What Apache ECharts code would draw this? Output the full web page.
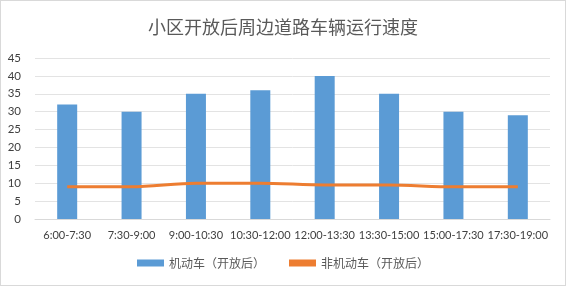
<!DOCTYPE html>
<html><head><meta charset="utf-8">
<script src="https://cdn.jsdelivr.net/npm/echarts@6/dist/echarts.min.js"></script>
<style>html,body{margin:0;padding:0;background:#fff}#c{width:566px;height:286px;box-sizing:border-box;border:1px solid #d9d9d9}</style>
</head><body><div id="c"></div>
<script>
const categories = ['6:00-7:30','7:30-9:00','9:00-10:30','10:30-12:00','12:00-13:30','13:30-15:00','15:00-17:30','17:30-19:00'];
const motorSpeed = [32, 30, 35, 36, 40, 35, 30, 29];
const nonMotorSpeed = [9, 9, 10, 10, 9.5, 9.5, 9, 9];
const yTicks = {min: 0, max: 45, interval: 5};
const titleText = '小区开放后周边道路车辆运行速度';
const seriesNames = ['机动车（开放后）', '非机动车（开放后）'];

const chart = echarts.init(document.getElementById('c'), null, {renderer: 'canvas'});
const numFont = 'Lato, "Liberation Sans", sans-serif';
const cjk = '"Noto Sans CJK SC", sans-serif';
chart.setOption({
  animation: false,
  title: {text: titleText, left: 'center', top: 12,
    textStyle: {fontFamily: cjk, fontSize: 18, fontWeight: 'normal', color: '#595959'}},
  grid: {left: 34, right: 15, top: 57, bottom: 66},
  legend: {bottom: 11, left: 'center', itemGap: 24, itemWidth: 27, itemHeight: 7,
    textStyle: {fontFamily: cjk, fontSize: 12, color: '#595959'},
    data: [{name: seriesNames[0], icon: 'rect'}, {name: seriesNames[1], icon: 'rect', itemStyle: {color: '#ED7D31'}}]},
  xAxis: {type: 'category', data: categories,
    axisLine: {lineStyle: {color: '#d9d9d9'}}, axisTick: {show: false},
    axisLabel: {fontFamily: numFont, fontSize: 11, color: '#404040', margin: 11, interval: 0}},
  yAxis: {type: 'value', min: yTicks.min, max: yTicks.max, interval: yTicks.interval,
    axisLine: {show: false}, axisTick: {show: false},
    splitLine: {lineStyle: {color: '#e3e3e3'}},
    axisLabel: {fontFamily: numFont, fontSize: 11.5, color: '#404040', margin: 14}},
  series: [
    {name: seriesNames[0], type: 'bar', data: motorSpeed, barWidth: 20,
      itemStyle: {color: '#5B9BD5'}},
    {name: seriesNames[1], type: 'line', data: nonMotorSpeed, smooth: 0.3, symbol: 'none',
      lineStyle: {color: '#ED7D31', width: 3}, itemStyle: {color: '#ED7D31'}}
  ]
});
</script></body></html>
